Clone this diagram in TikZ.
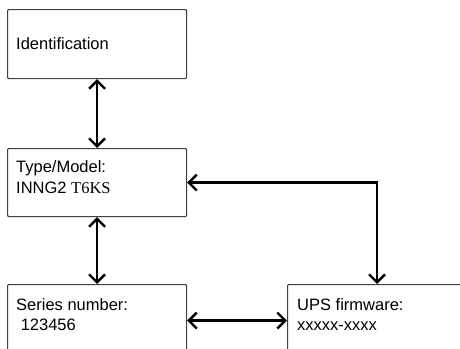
\documentclass[tikz,border=0pt]{standalone}
\usepackage{fontspec}
\setmainfont{Liberation Sans}
\newfontfamily\serifpart{Liberation Serif}
\usetikzlibrary{arrows.meta}
\begin{document}
\begin{tikzpicture}[x=1pt,y=-1pt,
  box/.style={draw=black!75,line width=1.1pt,rounded corners=1pt,inner sep=0pt,anchor=north west},
  txt/.style={anchor=base west,inner sep=0pt,font=\fontsize{16.5}{19}\selectfont},
  conn/.style={line width=2.4pt,{Straight Barb[length=8pt,width=16pt]}-{Straight Barb[length=8pt,width=16pt]}}]
\useasboundingbox[fill=white] (0,0) rectangle (460,348);
\node[box,minimum width=179pt,minimum height=69pt] (b1) at (7,9) {};
\node[box,minimum width=179pt,minimum height=68pt] (b2) at (7,148) {};
\node[box,minimum width=179pt,minimum height=72pt] (b3) at (7,284) {};
\node[box,minimum width=190pt,minimum height=72pt] (b4) at (287,284) {};
\node[txt] (t1) at (16,49) {Identification};
\node[txt] (t2) at (16,172) {Type/Model:};
\node[txt] (t3) at (16,193) {INNG2 {\serifpart T6KS}};
\node[txt] (t4) at (16,310) {Series number:};
\node[txt] (t5) at (16,330) {\ 123456};
\node[txt] (t6) at (297,310) {UPS firmware:};
\node[txt] (t7) at (297,330) {xxxxx-xxxx};
\coordinate (c4) at ([xshift=90pt]b4.north west);
\draw[conn] (b1.south) -- (b2.north);
\draw[conn] (b2.south) -- (b3.north);
\draw[conn] (b2.east) -| (c4);
\draw[conn] (b3.east) -- (b4.west);
\end{tikzpicture}
\end{document}
